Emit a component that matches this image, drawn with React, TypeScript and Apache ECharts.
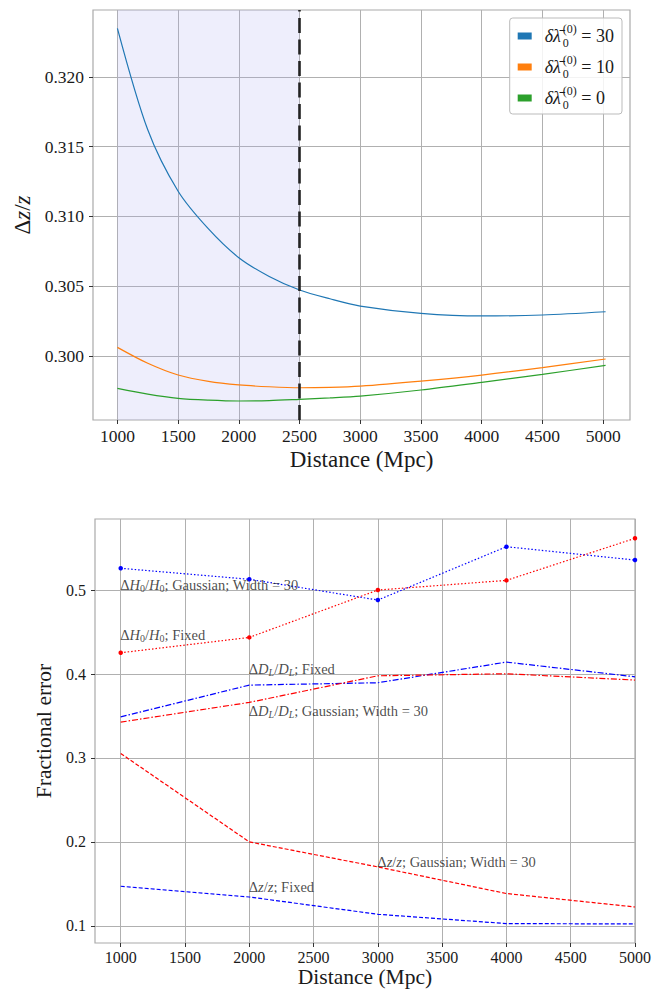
import React, { useEffect, useRef } from 'react';
import * as echarts from 'echarts';

// ---------- top panel data ----------
const TOP_DIST = [1000, 1250, 1500, 1750, 2000, 2250, 2500, 2750, 3000, 3500, 4000, 4500, 5020];
const TOP_W30 = [0.32347, 0.3162, 0.3118, 0.3091, 0.30704, 0.3057, 0.30473, 0.3041, 0.30358, 0.30306, 0.30287, 0.30294, 0.30317];
const TOP_W10 = [0.30062, 0.29948, 0.29864, 0.29818, 0.29793, 0.2978, 0.29773, 0.29776, 0.29785, 0.29821, 0.29864, 0.29917, 0.29979];
const TOP_W0 = [0.29768, 0.29727, 0.29697, 0.29684, 0.29678, 0.29681, 0.2969, 0.297, 0.29713, 0.29757, 0.29812, 0.29869, 0.29933];
const TOP_WIDTHS = ['30', '10', '0'];
const TOP_COLORS = ['#1f77b4', '#ff7f0e', '#2ca02c'];
const TOP_X_TICKS = [1000, 1500, 2000, 2500, 3000, 3500, 4000, 4500, 5000];
const TOP_Y_TICKS = [0.3, 0.305, 0.31, 0.315, 0.32];
const SHADE_FROM = 1000;
const SHADE_TO = 2500;
const CUT_DIST = 2500;

// ---------- bottom panel data ----------
const BOT_DIST = [1000, 2000, 3000, 4000, 5000];
const H0_GAUSS = [0.5259, 0.5128, 0.4881, 0.5516, 0.5357];
const H0_FIXED = [0.4253, 0.4436, 0.5, 0.5115, 0.5616];
const DL_FIXED = [0.349, 0.3868, 0.3896, 0.4142, 0.3967];
const DL_GAUSS = [0.3427, 0.3662, 0.3979, 0.4003, 0.3928];
const DZ_GAUSS = [0.3054, 0.2001, 0.1703, 0.1386, 0.1226];
const DZ_FIXED = [0.1473, 0.1345, 0.1139, 0.1028, 0.1024];
const BOT_X_TICKS = [1000, 1500, 2000, 2500, 3000, 3500, 4000, 4500, 5000];
const BOT_Y_TICKS = [0.1, 0.2, 0.3, 0.4, 0.5];

const ANN_X = [1000, 1000, 2000, 2000, 3000, 2000];
const ANN_Y = [0.5, 0.44, 0.4, 0.35, 0.17, 0.14];
const ANN_TEXT = [
  '{d|Δ}{i|H}{s|0}{d|/}{i|H}{s|0}{d|; Gaussian; Width = 30}',
  '{d|Δ}{i|H}{s|0}{d|/}{i|H}{s|0}{d|; Fixed}',
  '{d|Δ}{i|D}{si|L}{d|/}{i|D}{si|L}{d|; Fixed}',
  '{d|Δ}{i|D}{si|L}{d|/}{i|D}{si|L}{d|; Gaussian; Width = 30}',
  '{d|Δ}{i|z}{d|/}{i|z}{d|; Gaussian; Width = 30}',
  '{d|Δ}{i|z}{d|/}{i|z}{d|; Fixed}',
];

const FONT = '"Liberation Serif", "DejaVu Serif", serif';
const TXT = '#1a1a1a';
const GRID_C = '#b0b0b0';

const pairs = (xs: number[], ys: number[]) => xs.map((x, i) => [x, ys[i]]);

export default function App() {
  const ref = useRef<HTMLDivElement>(null);
  useEffect(() => {
    document.body.style.margin = '0';
    const chart = echarts.init(ref.current!, null, { renderer: 'svg' });
    const topNames = TOP_WIDTHS.map((w) => `δλ̄₀⁽⁰⁾ = ${w}`);
    const topData = [TOP_W30, TOP_W10, TOP_W0];

    const tick = (vals: number[]) => ({ show: true, inside: false, length: 4, customValues: vals, lineStyle: { color: '#333', width: 1 } });
    const label = (vals: number[], fs: number, margin: number, fmt: (v: number) => string) => ({
      show: true,
      customValues: vals,
      color: TXT,
      fontFamily: FONT,
      fontSize: fs,
      margin,
      formatter: (v: number) => `{t|${fmt(v)}}`,
      rich: { t: { fontFamily: FONT, fontSize: fs, color: TXT } },
    });

    const lineStyleSeries = (name: string, ys: number[], color: string, type: any, symbols: boolean) => ({
      name,
      type: 'line',
      xAxisIndex: 1,
      yAxisIndex: 1,
      data: pairs(BOT_DIST, ys),
      showSymbol: symbols,
      symbol: 'circle',
      symbolSize: 4.5,
      itemStyle: { color },
      lineStyle: { color, width: 1.2, type },
      z: 3,
    });

    const option: any = {
      animation: false,
      backgroundColor: '#ffffff',
      textStyle: { fontFamily: FONT, color: TXT },
      grid: [
        { left: 93, top: 10, width: 537, height: 410, show: true, borderColor: '#aaaaaa', borderWidth: 1.2, backgroundColor: 'transparent' },
        { left: 95, top: 519, width: 540, height: 424, show: true, borderColor: '#aaaaaa', borderWidth: 1.2, backgroundColor: 'transparent' },
      ],
      legend: {
        data: topNames,
        right: 38,
        top: 18,
        orient: 'vertical',
        icon: 'rect',
        itemWidth: 14,
        itemHeight: 7,
        itemGap: 5,
        padding: [5, 8, 3, 8],
        backgroundColor: 'rgba(255,255,255,0.85)',
        borderColor: '#bbbbbb',
        borderWidth: 1,
        borderRadius: 3,
        selectedMode: false,
        formatter: (name: string) => {
          const i = topNames.indexOf(name);
          return `{m|δλ̄}{sb|0}{sp|(0)}{n| = ${TOP_WIDTHS[i]}}`;
        },
        textStyle: {
          color: TXT,
          fontFamily: FONT,
          padding: [0, 0, 0, 8],
          rich: {
            m: { fontFamily: FONT, fontSize: 18, fontStyle: 'italic', lineHeight: 26, color: TXT, padding: [0, 2, 0, 0] },
            sb: { fontFamily: FONT, fontSize: 12, lineHeight: 11, verticalAlign: 'bottom', width: 0, color: TXT },
            sp: { fontFamily: FONT, fontSize: 12, lineHeight: 11, verticalAlign: 'top', color: TXT },
            n: { fontFamily: FONT, fontSize: 18, lineHeight: 26, color: TXT },
          },
        },
      },
      xAxis: [
        {
          type: 'value',
          gridIndex: 0,
          min: 799,
          max: 5221,
          axisLine: { show: false },
          splitLine: { show: true, lineStyle: { color: GRID_C, width: 1 } },
          axisTick: tick(TOP_X_TICKS),
          axisLabel: label(TOP_X_TICKS, 17.5, 7, (v) => String(Math.round(v))),
          name: 'Distance (Mpc)',
          nameLocation: 'middle',
          nameGap: 28,
          nameTextStyle: { color: TXT, fontFamily: FONT, fontSize: 23 },
        },
        {
          type: 'value',
          gridIndex: 1,
          min: 800,
          max: 5000,
          axisLine: { show: false },
          splitLine: { show: true, lineStyle: { color: GRID_C, width: 1 } },
          axisTick: tick(BOT_X_TICKS),
          axisLabel: label(BOT_X_TICKS, 16, 6, (v) => String(Math.round(v))),
          name: 'Distance (Mpc)',
          nameLocation: 'middle',
          nameGap: 21,
          nameTextStyle: { color: TXT, fontFamily: FONT, fontSize: 21.5 },
        },
      ],
      yAxis: [
        {
          type: 'value',
          gridIndex: 0,
          min: 0.29542,
          max: 0.32478,
          axisLine: { show: false },
          splitLine: { show: true, lineStyle: { color: GRID_C, width: 1 } },
          axisTick: tick(TOP_Y_TICKS),
          axisLabel: label(TOP_Y_TICKS, 17.5, 9, (v) => v.toFixed(3)),
          name: '{d|Δ}{i|z}{d|/}{i|z}',
          nameLocation: 'middle',
          nameGap: 56,
          nameTextStyle: {
            color: TXT,
            rich: {
              d: { fontFamily: FONT, fontSize: 23, color: TXT },
              i: { fontFamily: FONT, fontSize: 23, fontStyle: 'italic', color: TXT },
            },
          },
        },
        {
          type: 'value',
          gridIndex: 1,
          min: 0.0797,
          max: 0.5846,
          axisLine: { show: false },
          splitLine: { show: true, lineStyle: { color: GRID_C, width: 1 } },
          axisTick: tick(BOT_Y_TICKS),
          axisLabel: label(BOT_Y_TICKS, 16, 9, (v) => v.toFixed(1)),
          name: 'Fractional error',
          nameLocation: 'middle',
          nameGap: 36,
          nameTextStyle: { color: TXT, fontFamily: FONT, fontSize: 21.5 },
        },
      ],
      series: [
        {
          name: 'shade',
          type: 'line',
          xAxisIndex: 0,
          yAxisIndex: 0,
          data: [],
          z: 1,
          silent: true,
          markArea: {
            silent: true,
            itemStyle: { color: 'rgba(170,170,240,0.2)' },
            data: [[{ xAxis: SHADE_FROM }, { xAxis: SHADE_TO }]],
          },
        },
        ...topNames.map((n, i) => ({
          name: n,
          type: 'line',
          xAxisIndex: 0,
          yAxisIndex: 0,
          data: pairs(TOP_DIST, topData[i]),
          smooth: 0.3,
          showSymbol: false,
          itemStyle: { color: TOP_COLORS[i] },
          lineStyle: { color: TOP_COLORS[i], width: 1.2 },
          z: 3,
        })),
        {
          name: 'cut',
          type: 'line',
          xAxisIndex: 0,
          yAxisIndex: 0,
          data: [],
          z: 5,
          silent: true,
          markLine: {
            silent: true,
            symbol: 'none',
            label: { show: false },
            lineStyle: { color: '#222222', width: 2.6, type: [15, 6.5] },
            data: [{ xAxis: CUT_DIST }],
          },
        },
        lineStyleSeries('ΔH₀/H₀; Gaussian; Width = 30', H0_GAUSS, '#0000ff', [1.5, 2], true),
        lineStyleSeries('ΔH₀/H₀; Fixed', H0_FIXED, '#ff0000', [1.5, 2], true),
        lineStyleSeries('ΔD_L/D_L; Fixed', DL_FIXED, '#0000ff', [6, 2, 1.5, 2], false),
        lineStyleSeries('ΔD_L/D_L; Gaussian; Width = 30', DL_GAUSS, '#ff0000', [6, 2, 1.5, 2], false),
        lineStyleSeries('Δz/z; Gaussian; Width = 30', DZ_GAUSS, '#ff0000', [4, 2], false),
        lineStyleSeries('Δz/z; Fixed', DZ_FIXED, '#0000ff', [4, 2], false),
        {
          name: 'annotations',
          type: 'scatter',
          xAxisIndex: 1,
          yAxisIndex: 1,
          symbolSize: 1,
          silent: true,
          itemStyle: { color: 'transparent' },
          z: 6,
          data: ANN_X.map((x, i) => ({ value: [x, ANN_Y[i]], label: { formatter: ANN_TEXT[i] } })),
          label: {
            show: true,
            position: [0, 0],
            align: 'left',
            verticalAlign: 'bottom',
            offset: [0, 4],
            color: TXT,
            rich: {
              d: { fontFamily: FONT, fontSize: 14.5, lineHeight: 18, color: TXT },
              i: { fontFamily: FONT, fontSize: 14.5, fontStyle: 'italic', lineHeight: 18, color: TXT },
              s: { fontFamily: FONT, fontSize: 10, lineHeight: 10, verticalAlign: 'bottom', color: TXT },
              si: { fontFamily: FONT, fontSize: 10, fontStyle: 'italic', lineHeight: 10, verticalAlign: 'bottom', color: TXT },
            },
          },
        },
      ],
    };
    chart.setOption(option);
    return () => chart.dispose();
  }, []);
  return <div ref={ref} style={{ width: 660, height: 990 }} />;
}
